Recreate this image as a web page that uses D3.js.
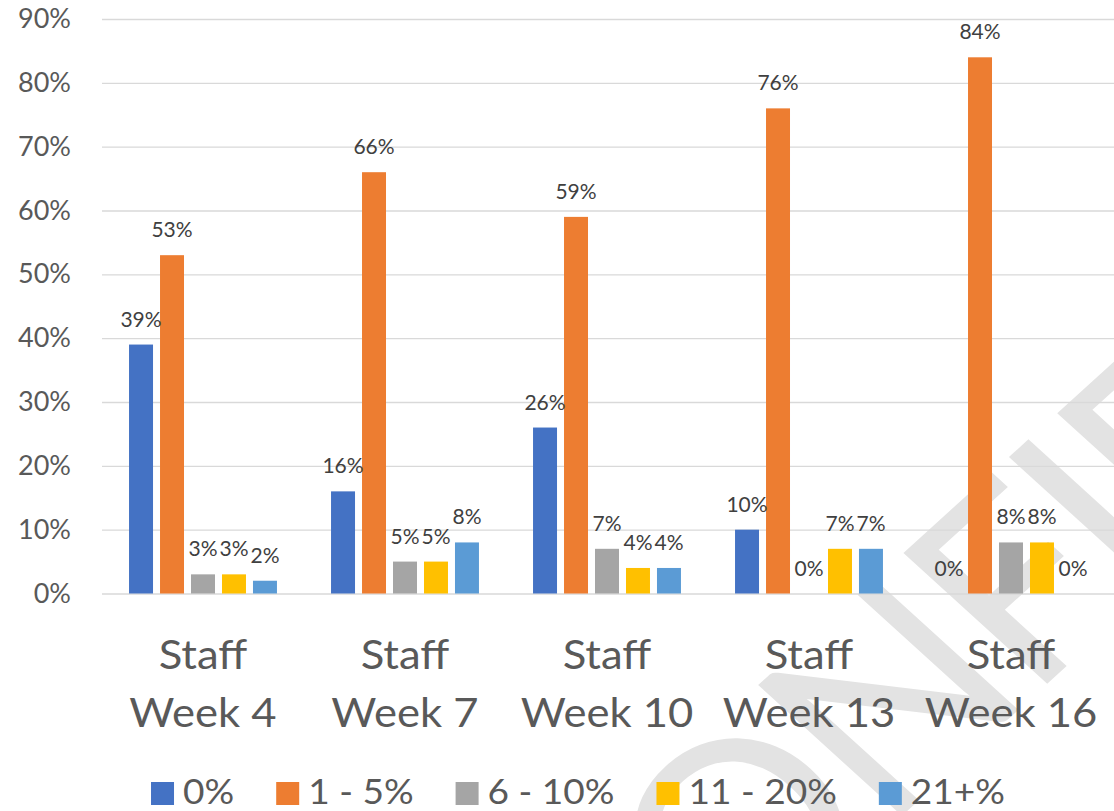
<!DOCTYPE html>
<html>
<head>
<meta charset="utf-8">
<script src="https://cdnjs.cloudflare.com/ajax/libs/d3/7.8.5/d3.min.js"></script>
<style>
    body { margin: 0; background: #fff; }
    svg { display: block; font-family: Lato, "Open Sans", sans-serif; }
</style>
</head>
<body>
<div id="chart"></div>
<script>
let categories = ["Staff Week 4", "Staff Week 7", "Staff Week 10", "Staff Week 13", "Staff Week 16"];
let seriesNames = ["0%", "1 - 5%", "6 - 10%", "11 - 20%", "21+%"];
let seriesColors = ["#4472C4", "#ED7D31", "#A5A5A5", "#FFC000", "#5B9BD5"];
let zeroPct = [39, 16, 26, 10, 0];
let oneToFive = [53, 66, 59, 76, 84];
let sixToTen = [3, 5, 7, 0, 8];
let elevenToTwenty = [3, 5, 4, 7, 8];
let twentyOnePlus = [2, 8, 4, 7, 0];
let yTicks = [0, 10, 20, 30, 40, 50, 60, 70, 80, 90];

let values = [zeroPct, oneToFive, sixToTen, elevenToTwenty, twentyOnePlus];

let width = 1114, height = 811;
let plotLeft = 102, plotRight = 1112, plotTop = 19, plotBottom = 593.5;
let stretch = 1.09; // the source picture is a little wider than tall

let svg = d3.select("#chart")
    .append("svg")
    .attr("width", width)
    .attr("height", height);

// watermark sits behind the chart, only its middle letters show
let wm = svg.append("text")
    .attr("font-family", "Lato")
    .attr("font-size", 258)
    .attr("fill", "#e3e3e3")
    .attr("textLength", 1752)
    .attr("lengthAdjust", "spacing")
    .text("CONFIDENTIAL");

let fStem = wm.node().getStartPositionOfChar(3).x + 0.08 * 258;
let cap = 185, k = Math.SQRT1_2;
let wx = 901 - 1.1 * k * (fStem - cap);
let wy = 555 + k * (fStem + cap);
wm.attr("transform", `translate(${wx},${wy}) scale(1.1,1) rotate(-45)`);

let x0 = d3.scaleBand()
    .domain(categories)
    .range([plotLeft, plotRight])
    .paddingInner(0.233)
    .paddingOuter(0.1165);

let x1 = d3.scaleBand()
    .domain(seriesNames)
    .range([0, x0.bandwidth()])
    .paddingInner(0.226)
    .paddingOuter(0.113);

let y = d3.scaleLinear()
    .domain([0, 90])
    .range([plotBottom, plotTop]);

let yAxis = svg.append("g")
    .attr("transform", `translate(${plotLeft},0)`)
    .call(d3.axisLeft(y)
        .tickValues(yTicks)
        .tickFormat(d => d + "%")
        .tickSize(-(width - plotLeft))
        .tickPadding(31));

yAxis.select(".domain").remove();
yAxis.selectAll("line")
    .attr("stroke", "#d9d9d9")
    .attr("stroke-width", 1.4);
yAxis.selectAll("text")
    .attr("font-family", "Lato")
    .attr("font-size", 27)
    .attr("fill", "#595959");

// bars
let rows = [];
categories.forEach((c, i) => {
    seriesNames.forEach((s, j) => {
        rows.push({cat: c, series: s, color: seriesColors[j], value: values[j][i]});
    });
});

svg.append("g")
    .selectAll("rect")
    .data(rows).enter()
    .append("rect")
    .attr("x", d => x0(d.cat) + x1(d.series))
    .attr("y", d => y(d.value))
    .attr("width", x1.bandwidth())
    .attr("height", d => y(0) - y(d.value))
    .attr("fill", d => d.color);

svg.append("g")
    .selectAll("text")
    .data(rows).enter()
    .append("text")
    .attr("x", d => x0(d.cat) + x1(d.series) + x1.bandwidth() / 2)
    .attr("y", d => y(d.value) - 18)
    .attr("text-anchor", "middle")
    .attr("font-size", 21)
    .attr("fill", "#404040")
    .text(d => d.value + "%");

// category labels on two lines
let catLabels = svg.append("g")
    .selectAll("text")
    .data(categories).enter()
    .append("text")
    .attr("transform", d => `translate(${x0(d) + x0.bandwidth() / 2},0) scale(${stretch},1)`)
    .attr("text-anchor", "middle")
    .attr("font-size", 40)
    .attr("fill", "#595959");

catLabels.append("tspan")
    .attr("x", 0)
    .attr("y", 669)
    .text(d => d.slice(0, d.indexOf(" ")));

catLabels.append("tspan")
    .attr("x", 0)
    .attr("y", 727)
    .text(d => d.slice(d.indexOf(" ") + 1));

// legend
let legend = svg.append("g");
let legendItems = legend.selectAll("g")
    .data(seriesNames).enter()
    .append("g");

legendItems.append("rect")
    .attr("y", 782)
    .attr("width", 23)
    .attr("height", 23)
    .attr("fill", (d, i) => seriesColors[i]);

legendItems.append("text")
    .attr("transform", `translate(32,0) scale(${stretch},1)`)
    .attr("y", 804)
    .attr("font-size", 34)
    .attr("fill", "#595959")
    .text(d => d);

let pos = 0;
legendItems.each(function() {
    let w = this.querySelector("text").getComputedTextLength() * stretch;
    d3.select(this).attr("transform", `translate(${pos},0)`);
    pos += 32 + w + 42;
});
let legendWidth = pos - 42;
legend.attr("transform", `translate(${578 - legendWidth / 2},0)`);
</script>
</body>
</html>
